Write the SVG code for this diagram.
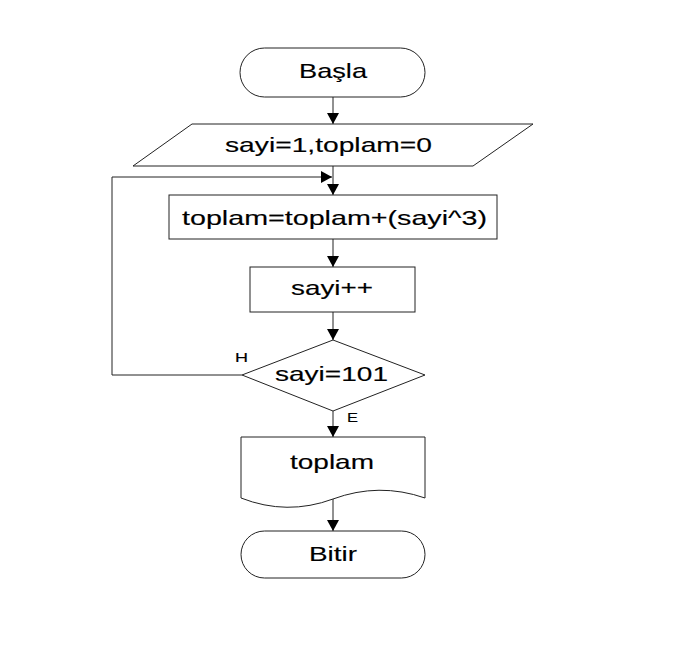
<svg xmlns="http://www.w3.org/2000/svg" width="677" height="648" viewBox="0 0 677 648">
<style>
.s{fill:#fff;stroke:#222;stroke-width:1}
.t{font-family:"Liberation Sans",Arial,sans-serif;font-size:21px;fill:#000;text-anchor:middle;stroke:#000;stroke-width:0.15}
.l{font-family:"Liberation Sans",Arial,sans-serif;font-size:13px;fill:#000;stroke:#000;stroke-width:0.15}
.c{fill:none;stroke:#222;stroke-width:1}
</style>
<defs>
<marker id="a" markerWidth="11" markerHeight="12" refX="11" refY="6" orient="auto" markerUnits="userSpaceOnUse">
<path d="M0,0 L11,6 L0,12 Z" fill="#000"/>
</marker>
</defs>
<rect width="677" height="648" fill="#fff"/>
<g id="connectors">
<line class="c" x1="333" y1="97" x2="333" y2="124" marker-end="url(#a)"/>
<line class="c" x1="333" y1="166" x2="333" y2="195" marker-end="url(#a)"/>
<polyline class="c" points="242,375 112,375 112,177 332,177" marker-end="url(#a)"/>
<line class="c" x1="333" y1="239" x2="333" y2="267" marker-end="url(#a)"/>
<line class="c" x1="333" y1="312" x2="333" y2="340" marker-end="url(#a)"/>
<line class="c" x1="333" y1="411" x2="333" y2="437" marker-end="url(#a)"/>
<line class="c" x1="333" y1="499" x2="333" y2="531" marker-end="url(#a)"/>
<text class="l" x="235" y="362" textLength="13" lengthAdjust="spacingAndGlyphs">H</text>
<text class="l" x="347" y="422" textLength="11" lengthAdjust="spacingAndGlyphs">E</text>
</g>
<g id="basla">
<rect class="s" x="240" y="48" width="185" height="49" rx="24.5" ry="24.5"/>
<text class="t" x="333" y="78" textLength="68" lengthAdjust="spacingAndGlyphs">Başla</text>
</g>
<g id="init">
<polygon class="s" points="192,124 533,124 473,166 133,166"/>
<text class="t" x="328.5" y="152" textLength="207" lengthAdjust="spacingAndGlyphs">sayi=1,toplam=0</text>
</g>
<g id="sum">
<rect class="s" x="169" y="195" width="328" height="44"/>
<text class="t" x="334.5" y="225" textLength="305" lengthAdjust="spacingAndGlyphs">toplam=toplam+(sayi^3)</text>
</g>
<g id="inc">
<rect class="s" x="250" y="267" width="165" height="45"/>
<text class="t" x="332" y="295" textLength="82" lengthAdjust="spacingAndGlyphs">sayi++</text>
</g>
<g id="decision">
<polygon class="s" points="333,340 425,375 333,411 242,375"/>
<text class="t" x="331.5" y="381" textLength="113" lengthAdjust="spacingAndGlyphs">sayi=101</text>
</g>
<g id="output">
<path class="s" d="M241,437 L425,437 L425,498 Q379,482 333,499 Q287,516 241,498 Z"/>
<text class="t" x="332" y="469" textLength="84" lengthAdjust="spacingAndGlyphs">toplam</text>
</g>
<g id="bitir">
<rect class="s" x="241" y="531" width="184" height="47" rx="23.5" ry="23.5"/>
<text class="t" x="333" y="561" textLength="48" lengthAdjust="spacingAndGlyphs">Bitir</text>
</g>
</svg>
